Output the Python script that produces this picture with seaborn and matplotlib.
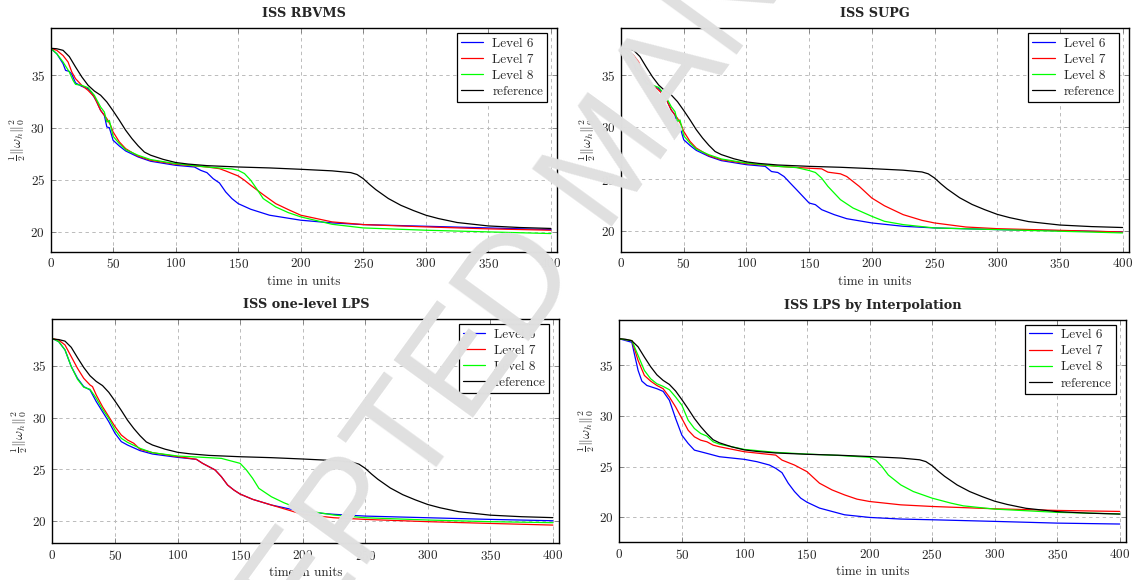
import pandas as pd
import seaborn as sns
from matplotlib import pyplot as plt

levels = ['Level 6', 'Level 7', 'Level 8', 'reference']
colors = ['#0000ff', '#ff0000', '#00ff00', '#000000']
titles = ['ISS RBVMS', 'ISS SUPG', 'ISS one-level LPS', 'ISS LPS by Interpolation']
xticks = [0, 50, 100, 150, 200, 250, 300, 350, 400]
yticks = [20, 25, 30, 35]

# reference curve (same in all four panels)
ref_t = [0, 5, 10, 15, 20, 25, 30, 35, 40, 45, 50, 55, 60, 65, 70, 75, 80, 90, 100, 110, 125, 150, 175, 200,
         225, 240, 245, 250, 255, 260, 270, 280, 290, 300, 310, 325, 350, 375, 400]
ref_v = [37.6, 37.55, 37.4, 36.8, 35.8, 34.85, 34.05, 33.5, 33.1, 32.45, 31.6, 30.7, 29.75, 28.95, 28.25, 27.65,
         27.35, 26.95, 26.65, 26.5, 26.35, 26.22, 26.13, 26.0, 25.85, 25.68, 25.5, 25.1, 24.55, 24.05, 23.2,
         22.55, 22.05, 21.6, 21.28, 20.9, 20.57, 20.42, 20.33]

# ISS RBVMS
rbvms_l6_t = [0, 5, 10, 12, 15, 17, 20, 25, 30, 33, 37, 40, 43, 45, 47, 50, 55, 60, 70, 80, 100, 115, 120, 125,
              130, 135, 140, 145, 150, 160, 175, 200, 225, 250, 300, 350, 400]
rbvms_l6_v = [37.6, 37.07, 36.12, 35.48, 35.38, 35.1, 34.27, 33.95, 33.72, 33.3, 32.45, 31.65, 31.17, 30.05,
              29.99, 28.78, 28.23, 27.76, 27.18, 26.77, 26.38, 26.22, 25.9, 25.68, 25.1, 24.69, 23.83, 23.19,
              22.71, 22.17, 21.6, 21.12, 20.86, 20.7, 20.54, 20.38, 20.22]
rbvms_l7_t = [0, 5, 10, 14, 17, 20, 25, 30, 35, 40, 45, 48, 50, 55, 60, 70, 80, 100, 125, 135, 140, 150, 155,
              160, 170, 180, 190, 200, 225, 250, 300, 350, 400]
rbvms_l7_v = [37.6, 37.4, 36.9, 36.28, 35.32, 34.68, 34.04, 33.56, 32.93, 31.65, 30.85, 30.21, 29.58, 28.62,
              27.98, 27.25, 26.86, 26.48, 26.22, 26.06, 25.84, 25.36, 24.95, 24.47, 23.57, 22.71, 22.14, 21.6,
              20.96, 20.7, 20.48, 20.29, 20.16]
rbvms_l8_t = [0, 5, 10, 15, 18, 20, 25, 30, 35, 40, 43, 45, 47, 50, 55, 60, 70, 80, 100, 125, 145, 150, 155,
              160, 165, 170, 180, 190, 200, 225, 250, 300, 350, 400]
rbvms_l8_v = [37.6, 37.07, 36.28, 35.32, 34.52, 34.14, 34.04, 33.82, 33.09, 31.97, 31.49, 30.53, 30.69, 29.16,
              28.46, 27.88, 27.34, 26.93, 26.54, 26.22, 26.03, 25.9, 25.59, 24.95, 24.09, 23.19, 22.39, 21.85,
              21.44, 20.73, 20.38, 20.16, 20.0, 19.84]

# ISS SUPG
supg_l6_t = [0, 5, 10, 12, 15, 17, 20, 25, 30, 33, 37, 40, 43, 45, 47, 50, 55, 60, 70, 80, 100, 115, 120, 125,
             130, 135, 140, 145, 150, 155, 160, 170, 180, 200, 225, 250, 300, 350, 400]
supg_l6_v = [37.6, 37.07, 36.12, 35.48, 35.38, 35.1, 34.27, 33.95, 33.72, 33.3, 32.45, 31.65, 31.17, 30.05,
             29.99, 28.78, 28.23, 27.76, 27.18, 26.77, 26.38, 26.22, 25.72, 25.63, 25.24, 24.6, 23.97, 23.33,
             22.69, 22.53, 22.05, 21.57, 21.18, 20.77, 20.45, 20.29, 20.13, 20.03, 19.9]
supg_l7_t = [0, 5, 10, 14, 17, 20, 25, 30, 35, 40, 45, 48, 50, 55, 60, 70, 80, 100, 125, 150, 160, 165, 175,
             180, 190, 200, 210, 225, 240, 250, 275, 300, 350, 400]
supg_l7_v = [37.6, 37.4, 36.9, 36.28, 35.32, 34.68, 34.04, 33.56, 32.93, 31.65, 30.85, 30.21, 29.58, 28.62,
             27.98, 27.25, 26.86, 26.48, 26.22, 26.04, 25.98, 25.66, 25.5, 25.24, 24.29, 23.17, 22.43, 21.57,
             21.02, 20.77, 20.38, 20.22, 20.06, 19.9]
supg_l8_t = [0, 5, 10, 15, 18, 20, 25, 30, 35, 40, 43, 45, 47, 50, 55, 60, 70, 80, 100, 125, 140, 150, 155,
             160, 165, 170, 175, 185, 200, 210, 225, 250, 300, 350, 400]
supg_l8_v = [37.6, 37.07, 36.28, 35.32, 34.52, 34.14, 34.04, 33.82, 33.09, 31.97, 31.49, 30.53, 30.69, 29.16,
             28.46, 27.88, 27.34, 26.93, 26.54, 26.22, 26.1, 25.82, 25.63, 25.08, 24.29, 23.65, 23.01, 22.21,
             21.41, 20.93, 20.61, 20.29, 20.13, 19.97, 19.81]

# ISS one-level LPS
lps1_l6_t = [0, 5, 10, 15, 20, 25, 30, 35, 40, 45, 50, 55, 60, 70, 80, 100, 115, 120, 125, 130, 135, 140, 145,
             150, 160, 175, 200, 225, 250, 300, 350, 400]
lps1_l6_v = [37.65, 37.35, 36.55, 34.94, 33.8, 33.0, 32.68, 31.55, 30.58, 29.61, 28.48, 27.68, 27.35, 26.81,
             26.48, 26.16, 25.97, 25.58, 25.26, 24.94, 24.29, 23.48, 23.0, 22.61, 22.1, 21.55, 20.9, 20.65,
             20.48, 20.32, 20.16, 20.03]
lps1_l7_t = [0, 5, 10, 15, 20, 25, 30, 32, 35, 40, 45, 50, 55, 60, 65, 70, 80, 100, 115, 120, 125, 130, 135,
             140, 145, 150, 160, 175, 200, 225, 250, 300, 350, 400]
lps1_l7_v = [37.65, 37.5, 37.03, 35.9, 34.77, 33.8, 33.16, 33.0, 32.19, 31.06, 30.1, 29.13, 28.32, 27.84,
             27.52, 26.94, 26.61, 26.23, 25.97, 25.58, 25.26, 24.94, 24.29, 23.48, 23.0, 22.61, 22.1, 21.55,
             20.65, 20.32, 20.16, 19.94, 19.77, 19.61]
lps1_l8_t = [0, 5, 10, 15, 20, 25, 30, 35, 40, 45, 50, 55, 60, 70, 80, 100, 125, 135, 145, 150, 155, 160, 165,
             175, 185, 200, 225, 250, 300, 350, 400]
lps1_l8_v = [37.65, 37.35, 36.55, 34.94, 33.71, 32.94, 32.74, 31.87, 30.81, 29.94, 28.81, 28.0, 27.61, 27.03,
             26.61, 26.29, 26.13, 26.06, 25.74, 25.58, 24.94, 24.13, 23.16, 22.35, 21.77, 21.06, 20.58, 20.32,
             20.1, 19.94, 19.84]

# ISS LPS by Interpolation
interp_l6_t = [0, 10, 12, 15, 18, 22, 30, 35, 40, 45, 50, 55, 60, 70, 80, 100, 110, 120, 125, 130, 135, 140,
               145, 150, 160, 170, 180, 200, 225, 250, 300, 350, 400]
interp_l6_v = [37.6, 37.25, 36.11, 34.48, 33.43, 33.0, 32.68, 32.42, 31.54, 29.74, 28.1, 27.29, 26.63, 26.31,
               25.98, 25.72, 25.49, 25.16, 24.84, 24.41, 23.37, 22.55, 21.9, 21.5, 20.92, 20.59, 20.26, 20.0,
               19.84, 19.77, 19.61, 19.44, 19.35]
interp_l7_t = [0, 10, 15, 20, 25, 30, 35, 40, 45, 50, 55, 60, 65, 70, 75, 80, 100, 125, 130, 140, 150, 160,
               170, 180, 190, 200, 225, 250, 300, 350, 400]
interp_l7_v = [37.6, 37.42, 35.46, 33.99, 33.43, 33.0, 32.68, 31.86, 30.88, 29.74, 28.59, 27.94, 27.61, 27.45,
               27.12, 26.96, 26.47, 26.14, 25.65, 25.16, 24.51, 23.37, 22.71, 22.22, 21.8, 21.57, 21.24, 21.08,
               20.85, 20.69, 20.59]
interp_l8_t = [0, 10, 15, 20, 25, 30, 35, 40, 45, 50, 55, 60, 65, 70, 75, 80, 100, 125, 150, 175, 200, 205,
               210, 215, 225, 235, 250, 265, 275, 300, 350, 400]
interp_l8_v = [37.6, 37.42, 35.95, 34.48, 33.66, 33.17, 32.91, 32.58, 31.86, 31.05, 29.58, 28.76, 28.27, 28.01,
               27.45, 27.22, 26.7, 26.41, 26.24, 26.11, 25.92, 25.65, 25.0, 24.18, 23.2, 22.55, 21.9, 21.41,
               21.14, 20.82, 20.5, 20.35]

panels = [
    [(rbvms_l6_t, rbvms_l6_v), (rbvms_l7_t, rbvms_l7_v), (rbvms_l8_t, rbvms_l8_v), (ref_t, ref_v)],
    [(supg_l6_t, supg_l6_v), (supg_l7_t, supg_l7_v), (supg_l8_t, supg_l8_v), (ref_t, ref_v)],
    [(lps1_l6_t, lps1_l6_v), (lps1_l7_t, lps1_l7_v), (lps1_l8_t, lps1_l8_v), (ref_t, ref_v)],
    [(interp_l6_t, interp_l6_v), (interp_l7_t, interp_l7_v), (interp_l8_t, interp_l8_v), (ref_t, ref_v)],
]


def make_frame(series):
    rows = []
    for name, (t, v) in zip(levels, series):
        for a, b in zip(t, v):
            rows.append([a, b, name])
    return pd.DataFrame(rows, columns=['time', 'value', 'level'])


# layout: axes rectangles in figure fraction, y limits per panel
rects = [[0.0445, 0.566, 0.446, 0.385],
         [0.5467, 0.566, 0.447, 0.385],
         [0.0462, 0.0633, 0.446, 0.3860],
         [0.5452, 0.0650, 0.446, 0.3833]]
ylims = [(18.1, 39.5), (18.0, 39.5), (17.85, 39.5), (17.55, 39.45)]

sns.set_style('whitegrid')
plt.rcParams['font.family'] = ['cmr10', 'DejaVu Serif']
plt.rcParams['mathtext.fontset'] = 'cm'
plt.rcParams['axes.formatter.use_mathtext'] = True

fig = plt.figure(figsize=(11.36, 5.8), dpi=100)
for i in range(4):
    ax = fig.add_axes(rects[i])
    df = make_frame(panels[i])
    sns.lineplot(data=df, x='time', y='value', hue='level', hue_order=levels, palette=colors,
                 estimator=None, sort=False, linewidth=0.9, ax=ax)
    ax.set_xlim(0, 405)
    ax.set_ylim(*ylims[i])
    ax.set_xticks(xticks)
    ax.set_yticks(yticks)
    ax.grid(True, linestyle=(0, (3.5, 3.5)), color='#bbbbbb', linewidth=0.7)
    for s in ax.spines.values():
        s.set_visible(True)
        s.set_color('black')
        s.set_linewidth(1.0)
    ax.tick_params(direction='in', length=3.5, width=0.6, color='#777777', top=True, right=True,
                   bottom=True, left=True, labelsize=9.5, pad=4)
    ax.set_title(titles[i], fontfamily='DejaVu Serif', fontweight='bold', fontsize=9.3, pad=8)
    ax.set_xlabel('time in units', fontsize=9.5, labelpad=3)
    ax.set_ylabel(r'$\frac{1}{2}\|\omega_h\|_0^2$', fontsize=10)
    ax.yaxis.set_label_coords(-0.045, 0.5)
    leg = ax.get_legend()
    handles = leg.legend_handles
    labels = [t.get_text() for t in leg.get_texts()]
    ax.legend(handles, labels, loc='upper right', bbox_to_anchor=(0.98, 0.978), borderaxespad=0,
              fontsize=9.5, frameon=True, fancybox=False, edgecolor='black', framealpha=1,
              labelspacing=0.3, borderpad=0.3, handlelength=1.7, handletextpad=0.7)
    ax.get_legend().get_frame().set_linewidth(0.9)

# diagonal watermark over the page
fig.text(0.566, 0.681, 'ACCEPTED MANUSCRIPT', rotation=54, rotation_mode='anchor', ha='center',
         va='baseline', fontsize=102, color='#e0e0e0', family='Liberation Sans', zorder=10)

fig.savefig('out.png', dpi=100)
